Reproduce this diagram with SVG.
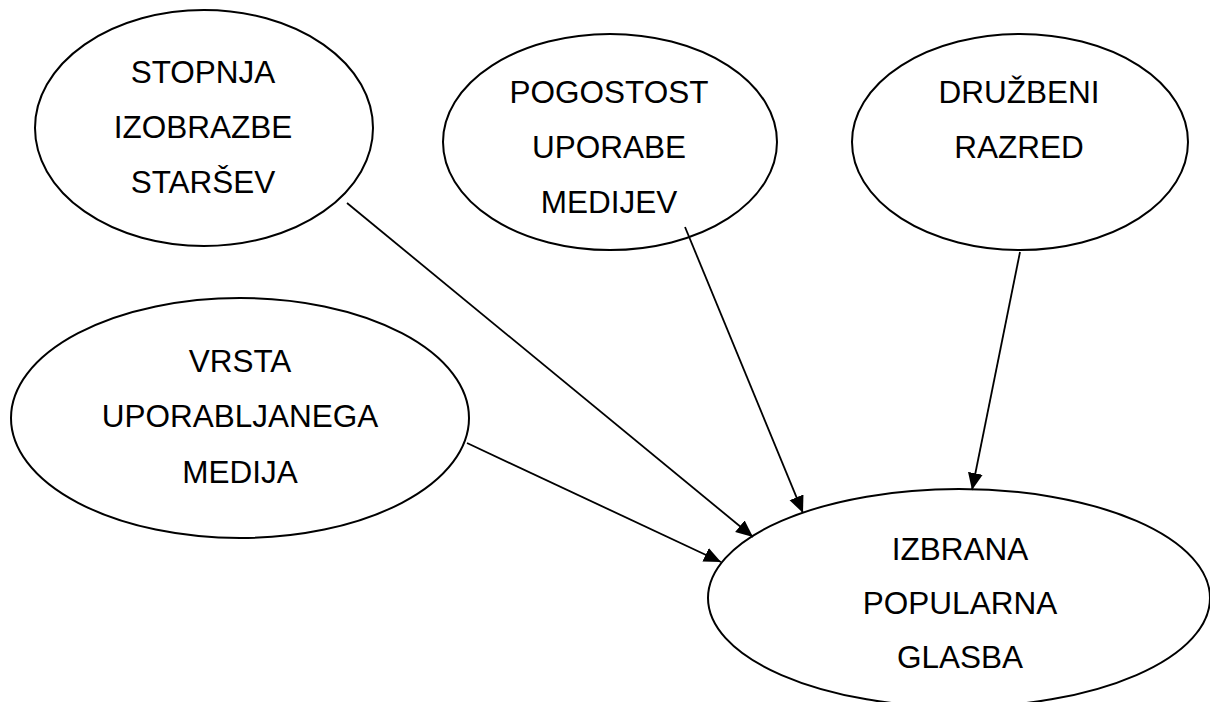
<svg xmlns="http://www.w3.org/2000/svg" width="1210" height="702" viewBox="0 0 1210 702">
  <style>
    .node ellipse { fill: none; stroke: #000; stroke-width: 2; }
    .node text { font-family: "Liberation Sans", Arial, sans-serif; font-size: 31.5px; fill: #000; text-anchor: middle; }
    .edge { stroke: #000; stroke-width: 1.8; fill: none; marker-end: url(#arrow); }
  </style>
  <defs>
    <marker id="arrow" markerUnits="userSpaceOnUse" markerWidth="18" markerHeight="16" refX="17" refY="7.5" orient="auto">
      <path d="M0,0 L17,7.5 L0,15 Z" fill="#000"/>
    </marker>
  </defs>
  <rect width="1210" height="702" fill="#fff"/>

  <g id="stopnja-izobrazbe-starsev" class="node">
    <ellipse cx="204" cy="128" rx="169" ry="118"/>
    <text x="203" y="83">STOPNJA</text>
    <text x="203" y="138">IZOBRAZBE</text>
    <text x="203" y="193">STARŠEV</text>
  </g>

  <g id="pogostost-uporabe-medijev" class="node">
    <ellipse cx="610" cy="142" rx="167" ry="108"/>
    <text x="609" y="103">POGOSTOST</text>
    <text x="609" y="158">UPORABE</text>
    <text x="609" y="213">MEDIJEV</text>
  </g>

  <g id="druzbeni-razred" class="node">
    <ellipse cx="1020" cy="142" rx="168" ry="108"/>
    <text x="1019" y="103">DRUŽBENI</text>
    <text x="1019" y="158">RAZRED</text>
  </g>

  <g id="vrsta-uporabljanega-medija" class="node">
    <ellipse cx="240" cy="418" rx="229" ry="120"/>
    <text x="240" y="372">VRSTA</text>
    <text x="240" y="427">UPORABLJANEGA</text>
    <text x="240" y="483">MEDIJA</text>
  </g>

  <g id="izbrana-popularna-glasba" class="node">
    <ellipse cx="959" cy="598" rx="251" ry="109"/>
    <text x="960" y="560">IZBRANA</text>
    <text x="960" y="614">POPULARNA</text>
    <text x="960" y="668">GLASBA</text>
  </g>

  <g id="connectors">
    <line class="edge" x1="347" y1="203" x2="753" y2="537"/>
    <line class="edge" x1="685" y1="227" x2="803" y2="513"/>
    <line class="edge" x1="1020" y1="252" x2="972" y2="490"/>
    <line class="edge" x1="467" y1="443" x2="721" y2="562"/>
  </g>
</svg>
